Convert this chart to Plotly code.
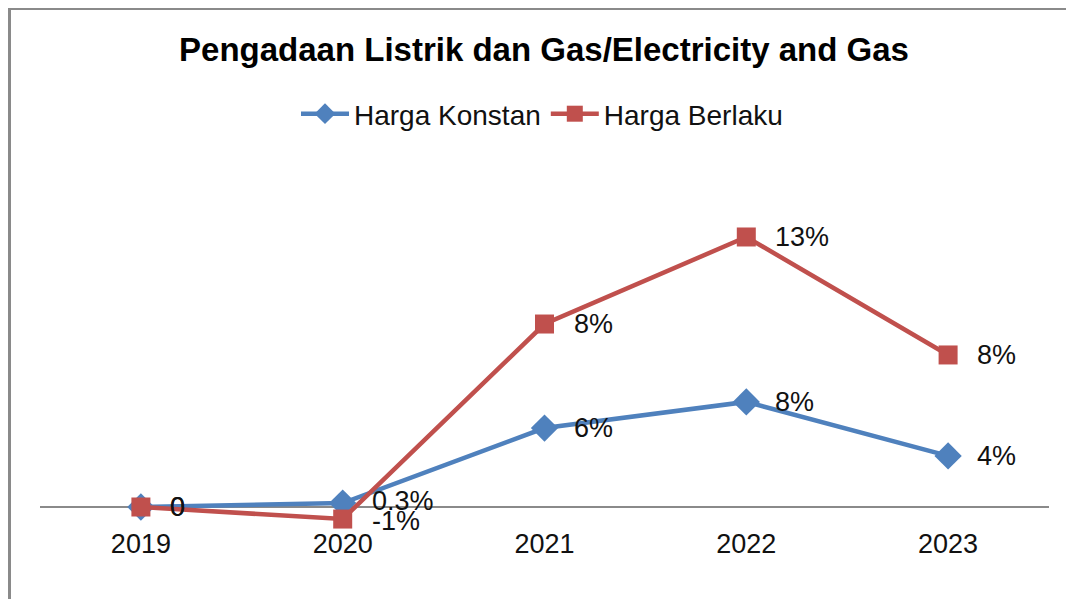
import plotly.graph_objects as go

# Data
years = ["2019", "2020", "2021", "2022", "2023"]
konstan = [0.0, 0.19, 3.80, 5.06, 2.46]
berlaku = [0.0, -0.58, 8.81, 13.0, 7.32]
konstan_labels = ["0", "0.3%", "6%", "8%", "4%"]
berlaku_labels = ["0", "-1%", "8%", "13%", "8%"]

BLUE = "#4F81BD"
RED = "#C0504D"
FONT = "Liberation Sans, Arial, sans-serif"

# plot area in figure pixels (page adds ~7px body margin)
PL, PR, PT, PB = 32, 1041, 143, 517
ZERO = 499
PX_PER_UNIT = 20.77


def main():
    fig = go.Figure()

    fig.add_trace(go.Scatter(
        x=list(range(len(years))), y=konstan, mode="lines+markers", name="Harga Konstan",
        line=dict(color=BLUE, width=4.5),
        marker=dict(symbol="diamond", size=21, color=BLUE),
        cliponaxis=False,
    ))
    fig.add_trace(go.Scatter(
        x=list(range(len(years))), y=berlaku, mode="lines+markers", name="Harga Berlaku",
        line=dict(color=RED, width=4.5),
        marker=dict(symbol="square", size=19, color=RED),
        cliponaxis=False,
    ))

    # data labels to the right of each point (the two 2020 labels nudged apart a little)
    for ys, labels, nudge in [(konstan, konstan_labels, 2), (berlaku, berlaku_labels, -2)]:
        for i, (y, t) in enumerate(zip(ys, labels)):
            fig.add_annotation(x=i, y=y, text=t, showarrow=False,
                               xanchor="left", yanchor="middle", xshift=27,
                               yshift=nudge if i == 1 else 0,
                               font=dict(size=27, color="#111111", family=FONT))

    # grey frame on the left and top edges
    w, h = PR - PL, PB - PT
    fig.add_shape(type="line", xref="paper", yref="paper",
                  x0=(1.5 - PL) / w, x1=(1.5 - PL) / w, y0=(PB - 0) / h, y1=(PB - 620) / h,
                  line=dict(color="#8a8a8a", width=3))
    fig.add_shape(type="line", xref="paper", yref="paper",
                  x0=(0 - PL) / w, x1=(1100 - PL) / w, y0=(PB - 0.5) / h, y1=(PB - 0.5) / h,
                  line=dict(color="#8a8a8a", width=3))

    fig.update_layout(
        width=1074, height=599,
        margin=dict(l=PL, r=1074 - PR, t=PT, b=599 - PB),
        paper_bgcolor="white", plot_bgcolor="white",
        font=dict(family=FONT, size=27, color="#111111"),
        title=dict(text="<b>Pengadaan Listrik dan Gas/Electricity and Gas</b>",
                   x=(543 - 7) / 1074, xanchor="center", y=1 - 41 / 599, yanchor="middle",
                   font=dict(size=33, color="#000000", family=FONT)),
        legend=dict(orientation="h", x=(541 - 7 - PL) / w, xanchor="center", y=(PB - 106) / h, yanchor="middle",
                    font=dict(size=28, family=FONT), itemwidth=48, tracegroupgap=0),
        showlegend=True,
        xaxis=dict(range=[-0.5, 4.5], showline=False, showgrid=False, zeroline=False,
                   tickmode="array", tickvals=list(range(len(years))), ticktext=years,
                   ticks="", tickfont=dict(size=27, color="#111111")),
        yaxis=dict(range=[-(PB - ZERO) / PX_PER_UNIT, (ZERO - PT) / PX_PER_UNIT],
                   showgrid=False, showticklabels=False,
                   zeroline=True, zerolinecolor="#8a8a8a", zerolinewidth=2, showline=False),
    )

    fig.write_html("out.html")


if __name__ == "__main__": main()
